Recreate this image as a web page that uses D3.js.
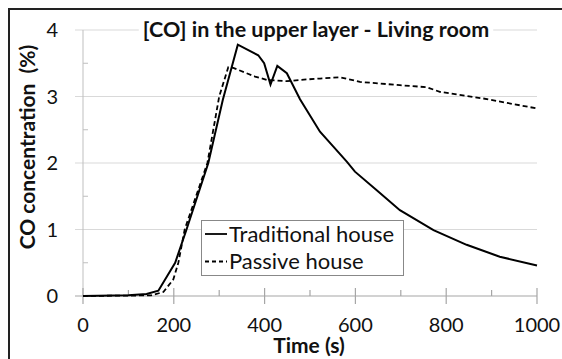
<!DOCTYPE html>
<html>
<head>
<meta charset="utf-8">
<script src="https://cdn.jsdelivr.net/npm/d3@7"></script>
<style>
  body { margin: 0; background: #fff; }
  text { font-family: Lato, "Open Sans", sans-serif; fill: #111; }
</style>
</head>
<body>
<div id="chart"></div>
<script>
// Traditional house (solid line)
var tradTime = [0, 100, 140, 166, 203, 228, 276, 308, 341, 386, 399, 413, 428, 449, 478, 522, 551, 581, 599, 647, 698, 772, 845, 918, 1000];
var tradCO   = [0, 0.01, 0.03, 0.08, 0.5, 1.0, 2.0, 2.95, 3.78, 3.62, 3.5, 3.18, 3.46, 3.35, 2.96, 2.47, 2.25, 2.02, 1.87, 1.59, 1.29, 0.99, 0.77, 0.59, 0.46];

// Passive house (dashed line)
var passTime = [0, 150, 177, 199, 210, 224, 274, 300, 320, 331, 379, 405, 449, 478, 522, 566, 610, 698, 757, 786, 882, 1000];
var passCO   = [0, 0.01, 0.06, 0.25, 0.5, 1.0, 2.0, 3.0, 3.44, 3.43, 3.30, 3.25, 3.23, 3.25, 3.27, 3.29, 3.22, 3.17, 3.14, 3.07, 2.97, 2.82];

var xTicks = [0, 200, 400, 600, 800, 1000];
var yTicks = [0, 1, 2, 3, 4];

var width = 562, height = 359;
var plot = { left: 83, right: 537, top: 30, bottom: 296 };

var x = d3.scaleLinear().domain([0, 1000]).range([plot.left, plot.right]);
var y = d3.scaleLinear().domain([0, 4]).range([plot.bottom, plot.top]);

var svg = d3.select('#chart')
  .append('svg')
    .attr('width', width)
    .attr('height', height);

// outer frame
svg.append('rect')
  .attr('x', 9).attr('y', 9)
  .attr('width', 600).attr('height', 400)
  .attr('fill', 'none')
  .attr('stroke', '#222')
  .attr('stroke-width', 2);

// gridlines
svg.append('g')
  .selectAll('line')
  .data(yTicks.slice(1))
  .enter().append('line')
    .attr('x1', plot.left - 8).attr('x2', plot.right)
    .attr('y1', function (d) { return y(d); })
    .attr('y2', function (d) { return y(d); })
    .attr('stroke', '#d9d9d9')
    .attr('stroke-width', 1.2);

// y minor ticks
svg.append('g')
  .selectAll('line')
  .data([0.5, 1.5, 2.5, 3.5])
  .enter().append('line')
    .attr('x1', plot.left).attr('x2', plot.left + 5)
    .attr('y1', function (d) { return y(d); })
    .attr('y2', function (d) { return y(d); })
    .attr('stroke', '#bfbfbf');

// y axis line
svg.append('line')
  .attr('x1', plot.left).attr('x2', plot.left)
  .attr('y1', y(4)).attr('y2', y(0))
  .attr('stroke', '#bfbfbf');

// x axis line and ticks
svg.append('line')
  .attr('x1', plot.left - 8).attr('x2', plot.right)
  .attr('y1', y(0)).attr('y2', y(0))
  .attr('stroke', '#a6a6a6')
  .attr('stroke-width', 1.2);

svg.append('g')
  .selectAll('line')
  .data(d3.range(0, 1001, 100))
  .enter().append('line')
    .attr('x1', function (d) { return x(d); })
    .attr('x2', function (d) { return x(d); })
    .attr('y1', function (d) { return d % 200 === 0 ? y(0) - 8 : y(0) - 6; })
    .attr('y2', function (d) { return d % 200 === 0 ? y(0) + 8 : y(0); })
    .attr('stroke', '#a6a6a6')
    .attr('stroke-width', 1.2);

// tick labels
svg.append('g')
  .selectAll('text')
  .data(xTicks)
  .enter().append('text')
    .attr('x', function (d) { return x(d); })
    .attr('y', y(0) + 36)
    .attr('text-anchor', 'middle')
    .style('font-size', '20px')
    .text(function (d) { return d; });

svg.append('g')
  .selectAll('text')
  .data(yTicks)
  .enter().append('text')
    .attr('x', 58)
    .attr('y', function (d) { return y(d) + 7; })
    .attr('text-anchor', 'end')
    .style('font-size', '20px')
    .text(function (d) { return d; });

// lines
var line = d3.line()
  .x(function (d) { return x(d[0]); })
  .y(function (d) { return y(d[1]); });

svg.append('path')
  .datum(d3.zip(passTime, passCO))
  .attr('d', line)
  .attr('fill', 'none')
  .attr('stroke', '#000')
  .attr('stroke-width', 1.8)
  .attr('stroke-dasharray', '5,3');

svg.append('path')
  .datum(d3.zip(tradTime, tradCO))
  .attr('d', line)
  .attr('fill', 'none')
  .attr('stroke', '#000')
  .attr('stroke-width', 2);

// title with white backing
var title = svg.append('g');
var tt = title.append('text')
  .attr('x', 316).attr('y', 37)
  .attr('text-anchor', 'middle')
  .style('font-size', '21.5px')
  .style('font-weight', 'bold')
  .text('[CO] in the upper layer - Living room');
var bb = tt.node().getBBox();
title.insert('rect', 'text')
  .attr('x', bb.x - 4).attr('y', bb.y)
  .attr('width', bb.width + 8).attr('height', bb.height)
  .attr('fill', '#fff');

// axis titles
svg.append('text')
  .attr('transform', 'translate(35,147) rotate(-90)')
  .attr('text-anchor', 'middle')
  .style('font-size', '21px')
  .style('font-weight', 'bold')
  .text('CO concentration\u00a0 (%)');

svg.append('text')
  .attr('x', 309).attr('y', 353)
  .attr('text-anchor', 'middle')
  .style('font-size', '21px')
  .style('font-weight', 'bold')
  .text('Time (s)');

// legend
var legend = svg.append('g');
legend.append('rect')
  .attr('x', 201.5).attr('y', 220.5)
  .attr('width', 202).attr('height', 55)
  .attr('fill', '#fff')
  .attr('stroke', '#888');

var items = [
  { label: 'Traditional house', dash: null },
  { label: 'Passive house', dash: '4,3' }
];
items.forEach(function (it, i) {
  var cy = 234 + i * 27.5;
  legend.append('line')
    .attr('x1', 205).attr('x2', 227)
    .attr('y1', cy).attr('y2', cy)
    .attr('stroke', '#000')
    .attr('stroke-width', 1.8)
    .attr('stroke-dasharray', it.dash);
  legend.append('text')
    .attr('x', 229).attr('y', cy + 7.5)
    .style('font-size', '22px')
    .text(it.label);
});
</script>
</body>
</html>
